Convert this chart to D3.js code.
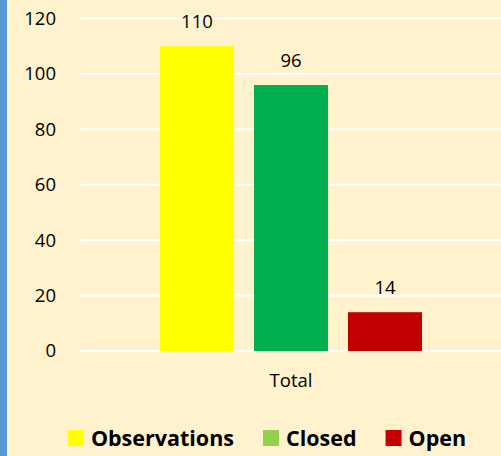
<!DOCTYPE html>
<html lang="en">
<head>
    <meta charset="UTF-8">
    <title>Observations - Closed - Open</title>
    <script src="https://d3js.org/d3.v7.min.js"></script>
    <style>
        body { margin: 0; background: #FFF2CC; }
        svg { display: block; font-family: "Open Sans", sans-serif; }
    </style>
</head>
<body>
    <svg id="chart" width="501" height="456"></svg>

    <script>
        // chart data
        const categories = ["Total"];
        const seriesNames = ["Observations", "Closed", "Open"];
        const seriesValues = [110, 96, 14];
        const barColors = ["#FFFF00", "#00B050", "#C00000"];
        const legendColors = ["#FFFF00", "#92D050", "#C00000"];
        const yTicks = [0, 20, 40, 60, 80, 100, 120];

        const svg = d3.select("#chart");

        svg.append("rect")
            .attr("width", 501).attr("height", 456)
            .attr("fill", "#FFF2CC");

        // blue strip on the left edge
        svg.append("rect")
            .attr("x", 0).attr("y", 0)
            .attr("width", 7).attr("height", 456)
            .attr("fill", "#5B9BD5");

        const plotLeft = 80, plotRight = 502;

        const y = d3.scaleLinear()
            .domain([0, 120])
            .range([351, 18.5]);

        const x0 = d3.scaleBand()
            .domain(categories)
            .range([plotLeft, plotRight])
            .paddingInner(0)
            .paddingOuter(0.3053);

        const x1 = d3.scaleBand()
            .domain(seriesNames)
            .range([0, x0.bandwidth()])
            .paddingInner(20 / 94)
            .paddingOuter(0);

        // gridlines
        svg.append("g")
            .selectAll("line")
            .data(yTicks)
            .join("line")
            .attr("x1", plotLeft)
            .attr("x2", 501)
            .attr("y1", d => y(d))
            .attr("y2", d => y(d))
            .attr("stroke", "#FFFFFF")
            .attr("stroke-width", 2);

        // y axis labels
        const yAxis = svg.append("g")
            .attr("transform", "translate(56,0)")
            .call(d3.axisLeft(y).tickValues(yTicks).tickSize(0).tickPadding(0));
        yAxis.select(".domain").remove();
        yAxis.selectAll("text")
            .style("font-size", "18.5px")
            .style("font-family", "'Open Sans', sans-serif")
            .attr("fill", "#000");

        // bars
        const groups = svg.append("g")
            .selectAll("g")
            .data(categories)
            .join("g")
            .attr("transform", d => `translate(${x0(d)},0)`);

        groups.selectAll("rect")
            .data(seriesNames.map((s, i) => ({ name: s, value: seriesValues[i], color: barColors[i] })))
            .join("rect")
            .attr("x", d => x1(d.name))
            .attr("y", d => y(d.value))
            .attr("width", x1.bandwidth())
            .attr("height", d => y(0) - y(d.value))
            .attr("fill", d => d.color);

        groups.selectAll("text")
            .data(seriesNames.map((s, i) => ({ name: s, value: seriesValues[i] })))
            .join("text")
            .attr("x", d => x1(d.name) + x1.bandwidth() / 2)
            .attr("y", d => y(d.value) - 18)
            .attr("text-anchor", "middle")
            .style("font-size", "18.5px")
            .attr("fill", "#000")
            .text(d => d.value);

        // category label
        svg.append("g")
            .selectAll("text")
            .data(categories)
            .join("text")
            .attr("x", d => x0(d) + x0.bandwidth() / 2)
            .attr("y", 387)
            .attr("text-anchor", "middle")
            .style("font-size", "18.5px")
            .attr("fill", "#000")
            .text(d => d);

        // legend
        const legend = svg.append("g");
        let lx = 0;
        seriesNames.forEach((name, i) => {
            const item = legend.append("g").attr("transform", `translate(${lx},0)`);
            item.append("rect")
                .attr("x", 0).attr("y", 430)
                .attr("width", 16).attr("height", 16)
                .attr("fill", legendColors[i]);
            const t = item.append("text")
                .attr("x", 23).attr("y", 446)
                .style("font-size", "21.5px")
                .style("font-weight", "bold")
                .attr("fill", "#000")
                .text(name);
            lx += 23 + t.node().getComputedTextLength() + 29;
        });
        const legendWidth = lx - 29;
        legend.attr("transform", `translate(${267 - legendWidth / 2},0)`);
    </script>
</body>
</html>
